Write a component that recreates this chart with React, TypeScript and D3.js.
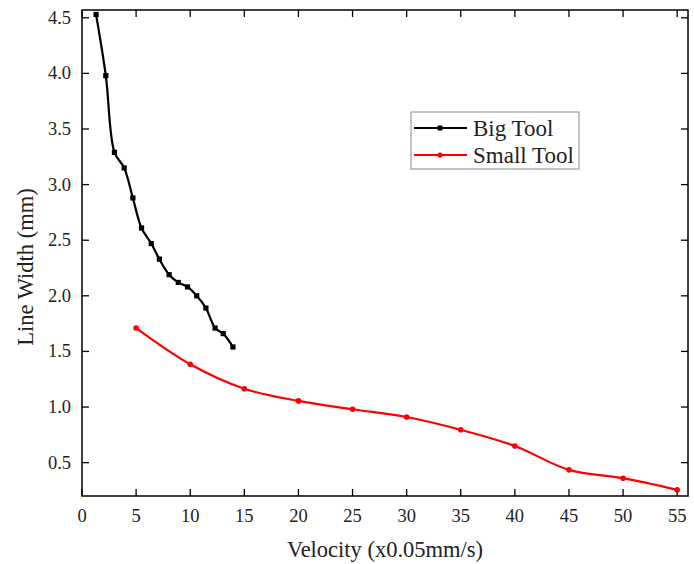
import React from "react";
import * as d3 from "d3";

const bigX = [1.3, 2.2, 3.0, 3.9, 4.7, 5.5, 6.4, 7.15, 8.05, 8.9, 9.75, 10.6, 11.45, 12.3, 13.05, 13.95];
const bigY = [4.53, 3.98, 3.29, 3.15, 2.88, 2.61, 2.47, 2.33, 2.19, 2.12, 2.08, 2.0, 1.89, 1.71, 1.66, 1.54];
const smallX = [5, 10, 15, 20, 25, 30, 35, 40, 45, 50, 55];
const smallY = [1.71, 1.385, 1.165, 1.055, 0.98, 0.91, 0.795, 0.65, 0.435, 0.36, 0.255];
const xTicks = [0, 5, 10, 15, 20, 25, 30, 35, 40, 45, 50, 55];
const yTicks = [0.5, 1.0, 1.5, 2.0, 2.5, 3.0, 3.5, 4.0, 4.5];
const seriesNames = ["Big Tool", "Small Tool"];

const W = 694, H = 564;
const L = 82, R = 688, T = 10, B = 496;
const FONT = "'Liberation Serif', 'Times New Roman', serif";

export default function App() {
  const x = d3.scaleLinear().domain([0, 56]).range([L, R]);
  const y = d3.scaleLinear().domain([0.2, 4.57]).range([B, T]);
  const big = bigX.map((v, i) => [v, bigY[i]] as [number, number]);
  const small = smallX.map((v, i) => [v, smallY[i]] as [number, number]);
  const line = d3.line<[number, number]>().x(d => x(d[0])).y(d => y(d[1])).curve(d3.curveCatmullRom.alpha(0.5));
  const tl = 7;
  return (
    <svg width={W} height={H} style={{ position: "absolute", left: 0, top: 0, background: "#fff" }}>
      <rect x={0} y={0} width={W} height={H} fill="#fff" />
      {xTicks.map(t => (
        <g key={"x" + t}>
          <line x1={x(t)} x2={x(t)} y1={B} y2={B - tl} stroke="#000" strokeWidth={1.3} />
          <line x1={x(t)} x2={x(t)} y1={T} y2={T + tl} stroke="#000" strokeWidth={1.3} />
          <text x={x(t)} y={B + 26} textAnchor="middle" fontFamily={FONT} fontSize={18.5} fill="#222">{t}</text>
        </g>
      ))}
      {yTicks.map(t => (
        <g key={"y" + t}>
          <line x1={L} x2={L + tl} y1={y(t)} y2={y(t)} stroke="#000" strokeWidth={1.3} />
          <line x1={R} x2={R - tl} y1={y(t)} y2={y(t)} stroke="#000" strokeWidth={1.3} />
          <text x={L - 11} y={y(t) + 6} textAnchor="end" fontFamily={FONT} fontSize={18.5} fill="#222">{t.toFixed(1)}</text>
        </g>
      ))}
      <rect x={L} y={T} width={R - L} height={B - T} fill="none" stroke="#000" strokeWidth={1.5} />
      <path d={line(small) || ""} fill="none" stroke="#f00" strokeWidth={2.2} />
      {small.map((d, i) => <circle key={"s" + i} cx={x(d[0])} cy={y(d[1])} r={2.8} fill="#f00" />)}
      <path d={line(big) || ""} fill="none" stroke="#000" strokeWidth={2.2} />
      {big.map((d, i) => <rect key={"b" + i} x={x(d[0]) - 2.6} y={y(d[1]) - 2.6} width={5.2} height={5.2} fill="#000" />)}
      <rect x={411} y={112} width={168} height={57} fill="#fff" stroke="#888" strokeWidth={1} />
      <line x1={414} x2={467} y1={128} y2={128} stroke="#000" strokeWidth={2} />
      <rect x={437.5} y={125.5} width={5} height={5} fill="#000" />
      <text x={473} y={136} fontFamily={FONT} fontSize={23} fill="#222">{seriesNames[0]}</text>
      <line x1={414} x2={467} y1={155} y2={155} stroke="#f00" strokeWidth={2} />
      <circle cx={440} cy={155} r={2.6} fill="#f00" />
      <text x={473} y={163} fontFamily={FONT} fontSize={23} fill="#222">{seriesNames[1]}</text>
      <text x={385} y={557} textAnchor="middle" fontFamily={FONT} fontSize={22.5} fill="#222">Velocity (x0.05mm/s)</text>
      <text transform={`translate(33,267) rotate(-90)`} textAnchor="middle" fontFamily={FONT} fontSize={22.5} fill="#222">Line Width (mm)</text>
    </svg>
  );
}
